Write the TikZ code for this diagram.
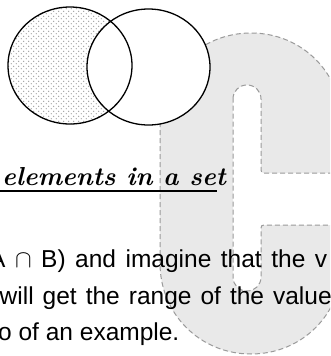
\documentclass[tikz,border=0pt]{standalone}
\usepackage{fontspec}
\newfontfamily\bodyfont{Liberation Sans}
\usetikzlibrary{patterns}
\definecolor{ghostfill}{HTML}{E9E9E9}
\definecolor{ghostline}{HTML}{9A9A9A}
\pgfdeclarepatternformonly{sparsedots}{\pgfqpoint{0pt}{0pt}}{\pgfqpoint{5.4pt}{5.4pt}}{\pgfqpoint{5.4pt}{5.4pt}}{%
  \pgfpathcircle{\pgfqpoint{1.35pt}{1.35pt}}{0.75pt}%
  \pgfpathcircle{\pgfqpoint{4.05pt}{4.05pt}}{0.75pt}%
  \pgfusepath{fill}}
\tikzset{
  ghost/.style={fill=ghostfill, draw=ghostline, line width=1pt, dash pattern=on 5pt off 3pt, even odd rule},
  setline/.style={draw=black, line width=1.3pt},
  bodytext/.style={inner sep=0pt, font=\bodyfont\fontsize{24.5}{28}\selectfont},
  titletext/.style={inner sep=0pt, font=\fontsize{26}{30}\selectfont\bfseries\itshape}
}
\begin{document}
\begin{tikzpicture}[x=1pt,y=-1pt]
\clip (0,0) rectangle (330,356);
\fill[white] (0,0) rectangle (330,356);
% big grey letter
\path[ghost]
  (160,124) .. controls (160,73) and (200,33) .. (251,33)
  .. controls (302,33) and (342,73) .. (342,124) -- (342,263)
  .. controls (342,314) and (302,354) .. (251,354)
  .. controls (200,354) and (160,314) .. (160,263) -- cycle
  (233,99) .. controls (233,91) and (239,85) .. (247,85)
  .. controls (255,85) and (261,91) .. (261,99) -- (261,170)
  .. controls (261,172) and (262,173) .. (264,173) -- (350,173) -- (350,225) -- (264,225)
  .. controls (262,225) and (261,226) .. (261,228) -- (261,277)
  .. controls (261,285) and (255,291) .. (247,291)
  .. controls (239,291) and (233,285) .. (233,277) -- cycle;
% Venn diagram
\fill[white] (70,65.5) ellipse [x radius=62, y radius=58.5];
\fill[pattern=sparsedots, pattern color=gray!75] (70,65.5) ellipse [x radius=62, y radius=58.5];
\fill[white] (148.5,67) ellipse [x radius=61.5, y radius=58];
\path[setline] (70,65.5) ellipse [x radius=62, y radius=58.5];
\path[setline] (148.5,67) ellipse [x radius=61.5, y radius=58];
% title
\node[titletext, anchor=base west] (title) at (2,185) {elements in a set};
\coordinate (ulL) at (0,191);
\coordinate (ulR) at (217,191);
\draw[line width=1.3pt] (ulL) -- (ulR);
% body text (justified lines)
\node[bodytext, anchor=base west] (l1) at (-11,267) {\makebox[338pt][s]{A $\cap$ B) and imagine that the v}};
\node[bodytext, anchor=base west] (l2) at (-0.5,304) {\makebox[332pt][s]{will get the range of the value}};
\node[bodytext, anchor=base west] (l3) at (-2,340) {o of an example.};
\end{tikzpicture}
\end{document}
